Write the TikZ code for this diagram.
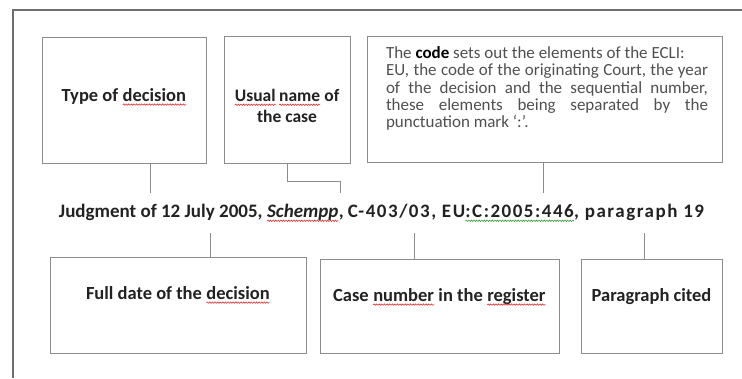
\documentclass[tikz,border=0pt]{standalone}
\usepackage{fontspec}
\setmainfont{Carlito}
\usetikzlibrary{decorations.pathmorphing}
\definecolor{boxgray}{HTML}{8C8C8C}
\definecolor{framegray}{HTML}{6E6E6E}
\definecolor{ink}{HTML}{222222}
\definecolor{body}{HTML}{505050}
\definecolor{sqred}{HTML}{E03030}
\definecolor{sqgreen}{HTML}{3A9A3A}
\newcommand\wavyunder[2]{\tikz[baseline=(w.base)]{\node[inner sep=0pt, outer sep=0pt] (w) {#2};
  \draw[#1, line width=0.6pt, decorate, decoration={snake, amplitude=0.7pt, segment length=2.6pt}]
   ([yshift=-3.2pt]w.base west) -- ([yshift=-3.2pt]w.base east);}}
\newcommand\redsq[1]{\wavyunder{sqred}{#1}}
\newcommand\grnsq[1]{\wavyunder{sqgreen}{#1}}
\newcommand\jline[1]{\hbox to 322pt{#1}}
\newcommand\jsp{\hfill}
\begin{document}
\begin{tikzpicture}[x=1pt,y=-1pt,
  box/.style={draw=boxgray, line width=1pt, inner sep=0pt},
  lbl/.style={font=\fontsize{18.5}{21}\selectfont\bfseries, text=ink, inner sep=0pt, align=center},
  conn/.style={draw=boxgray, line width=1pt}]
\fill[white] (0,0) rectangle (742,378);
\useasboundingbox (0,0) rectangle (742,378);
% outer frame
\draw[framegray, line width=1.5pt] (13,378) -- (13,10) -- (742,10);
% boxes
\node[box, minimum width=164, minimum height=126] (b1) at (124,100) {};
\node[box, minimum width=126, minimum height=127] (b2) at (287,99.5) {};
\node[box, minimum width=355, minimum height=126] (b3) at (544.5,99) {};
\node[box, minimum width=256, minimum height=96] (b4) at (178,305) {};
\node[box, minimum width=239, minimum height=94] (b5) at (439.5,306) {};
\node[box, minimum width=141, minimum height=94] (b6) at (651.5,306) {};
% labels
\node[lbl] (t1) at (124,97) {Type of \redsq{decision}};
\node[lbl, font=\fontsize{17.5}{21}\selectfont\bfseries] (t2) at (287,106) {\redsq{Usual}\,\redsq{name} of\\the case};
\node[lbl] (t4) at (178,295) {Full date of the \redsq{decision}};
\node[lbl] (t5) at (439.5,297) {Case \redsq{number} in the \redsq{register}};
\node[lbl] (t6) at (651.5,297) {Paragraph cited};
\node[inner sep=0pt, text=body, align=left,
      font=\fontsize{17}{17.2}\selectfont] (t3) at (547,88.5) {%
\jline{The \textbf{\color{black}code} sets out the elements of the ECLI:\hfil}\\
\jline{EU,\jsp the\jsp code\jsp of\jsp the\jsp originating\jsp Court,\jsp the\jsp year}\\
\jline{of\jsp the\jsp decision\jsp and\jsp the\jsp sequential\jsp number,}\\
\jline{these\jsp elements\jsp being\jsp separated\jsp by\jsp the}\\
\jline{punctuation mark `:'.\hfil}};
% citation line
\node[inner sep=0pt, text=ink, font=\fontsize{19}{22}\selectfont\bfseries] (cit) at (381.5,213)
 {Judgment of 12 July 2005, \textit{\redsq{Schempp}}, {\addfontfeatures{LetterSpace=8}C-403/03, EU\grnsq{:C:2005:446}, paragraph 19}};
% connectors
\coordinate (c1) at (150,193);
\coordinate (c2) at (340,193);
\coordinate (c3) at (543,193);
\coordinate (c4) at (210,233);
\coordinate (c5) at (414,233);
\coordinate (c6) at (644,233);
\draw[conn] (b1.south -| c1) -- (c1);
\draw[conn] (b2.south) -- ++(0,18) -| (c2);
\draw[conn] (b3.south -| c3) -- (c3);
\draw[conn] (c4) -- (b4.north -| c4);
\draw[conn] (c5) -- (b5.north -| c5);
\draw[conn] (c6) -- (b6.north -| c6);
\end{tikzpicture}
\end{document}
